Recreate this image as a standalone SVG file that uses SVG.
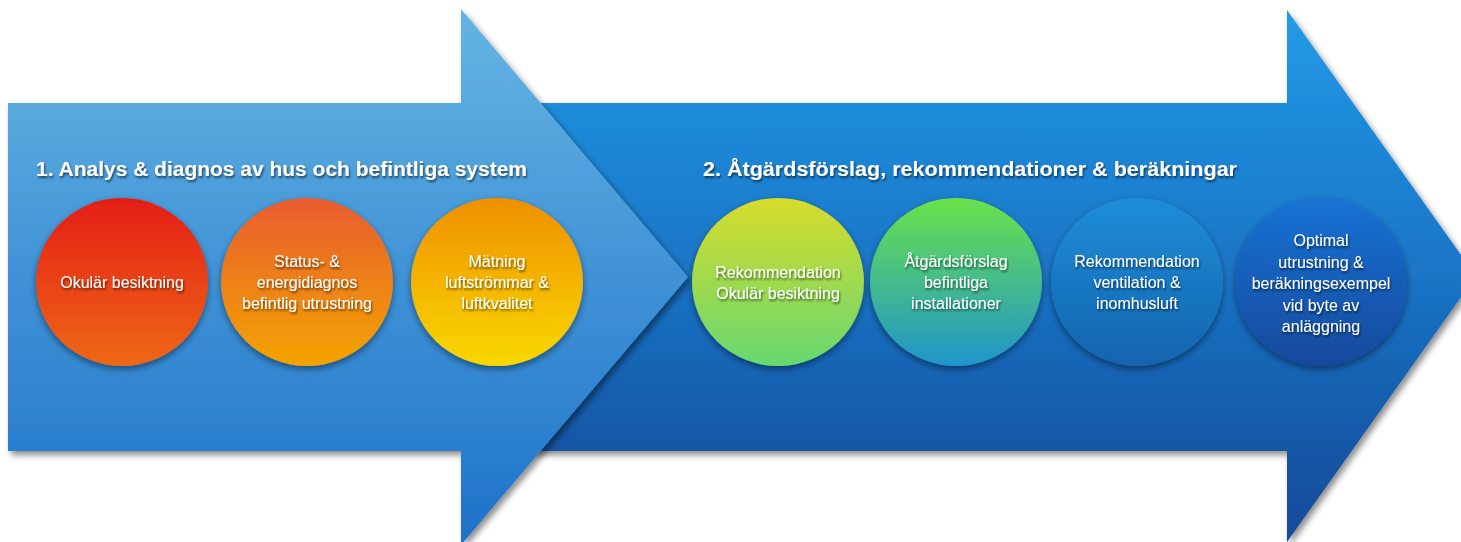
<svg xmlns="http://www.w3.org/2000/svg" width="1461" height="542" viewBox="0 0 1461 542">
<defs>
<linearGradient id="gA1" gradientUnits="userSpaceOnUse" x1="0" y1="9" x2="0" y2="545">
<stop offset="0" stop-color="#64b4e2"/>
<stop offset="0.2" stop-color="#57a8de"/>
<stop offset="0.5" stop-color="#4092d6"/>
<stop offset="0.8" stop-color="#2c80cf"/>
<stop offset="1" stop-color="#1e70c8"/>
</linearGradient>
<linearGradient id="gA2" gradientUnits="userSpaceOnUse" x1="0" y1="10" x2="0" y2="542">
<stop offset="0" stop-color="#249ce8"/>
<stop offset="0.18" stop-color="#1f8cdb"/>
<stop offset="0.5" stop-color="#1a74c5"/>
<stop offset="0.83" stop-color="#1556a6"/>
<stop offset="1" stop-color="#134a9a"/>
</linearGradient>
<linearGradient id="c1" x1="0" y1="0" x2="0" y2="1"><stop offset="0" stop-color="#e41d19"/><stop offset="1" stop-color="#ee6814"/></linearGradient>
<linearGradient id="c2" x1="0" y1="0" x2="0" y2="1"><stop offset="0" stop-color="#e85c30"/><stop offset="1" stop-color="#f3a400"/></linearGradient>
<linearGradient id="c3" x1="0" y1="0" x2="0" y2="1"><stop offset="0" stop-color="#ef9000"/><stop offset="1" stop-color="#f9d800"/></linearGradient>
<linearGradient id="c4" x1="0" y1="0" x2="0" y2="1"><stop offset="0" stop-color="#d8dc2a"/><stop offset="1" stop-color="#66d872"/></linearGradient>
<linearGradient id="c5" x1="0" y1="0" x2="0" y2="1"><stop offset="0" stop-color="#6ae24a"/><stop offset="1" stop-color="#1f94cc"/></linearGradient>
<linearGradient id="c6" x1="0" y1="0" x2="0" y2="1"><stop offset="0" stop-color="#1d8dd8"/><stop offset="1" stop-color="#1563ae"/></linearGradient>
<linearGradient id="c7" x1="0" y1="0" x2="0" y2="1"><stop offset="0" stop-color="#1a72d4"/><stop offset="1" stop-color="#13499c"/></linearGradient>
<filter id="shArrow" x="-10%" y="-10%" width="120%" height="130%">
<feGaussianBlur in="SourceAlpha" stdDeviation="3"/>
<feOffset dx="3" dy="4" result="b"/>
<feComponentTransfer><feFuncA type="linear" slope="0.45"/></feComponentTransfer>
<feMerge><feMergeNode/><feMergeNode in="SourceGraphic"/></feMerge>
</filter>
<filter id="shCircle" x="-20%" y="-20%" width="140%" height="150%">
<feGaussianBlur in="SourceAlpha" stdDeviation="3.5"/>
<feOffset dx="0" dy="3"/>
<feComponentTransfer><feFuncA type="linear" slope="0.45"/></feComponentTransfer>
<feMerge><feMergeNode/><feMergeNode in="SourceGraphic"/></feMerge>
</filter>
<filter id="shText" x="-10%" y="-30%" width="120%" height="170%">
<feGaussianBlur in="SourceAlpha" stdDeviation="1.3"/>
<feOffset dx="1" dy="2"/>
<feComponentTransfer><feFuncA type="linear" slope="0.6"/></feComponentTransfer>
<feMerge><feMergeNode/><feMergeNode in="SourceGraphic"/></feMerge>
</filter>
</defs>
<style>
.title{font-family:"Liberation Sans",Arial,sans-serif;font-weight:bold;font-size:20px;fill:#ffffff;filter:url(#shText)}
.lbl{font-family:"Liberation Sans",Arial,sans-serif;font-size:16px;fill:#ffffff;text-anchor:middle;filter:url(#shText)}
.circ{filter:url(#shCircle)}
</style>
<rect x="0" y="0" width="1461" height="542" fill="#ffffff"/>
<g id="arrow2">
<polygon points="500,103 1287,103 1287,10 1476,276 1287,542 1287,451 500,451" fill="url(#gA2)" filter="url(#shArrow)"/>
</g>
<g id="arrow1">
<polygon points="8,103 461,103 461,9 688,277 461,545 461,451 8,451" fill="url(#gA1)" filter="url(#shArrow)"/>
</g>
<g id="title1"><text class="title" x="36" y="176" textLength="491" lengthAdjust="spacingAndGlyphs">1. Analys &amp; diagnos av hus och befintliga system</text></g>
<g id="title2"><text class="title" x="703" y="176" textLength="534" lengthAdjust="spacingAndGlyphs">2. Åtgärdsförslag, rekommendationer &amp; beräkningar</text></g>
<g id="node1">
<ellipse class="circ" cx="122" cy="282" rx="86" ry="84" fill="url(#c1)"/>
<text class="lbl" x="122" y="288">Okulär besiktning</text>
</g>
<g id="node2">
<ellipse class="circ" cx="307" cy="282" rx="86" ry="84" fill="url(#c2)"/>
<text class="lbl" x="307" y="267">Status- &amp;</text>
<text class="lbl" x="307" y="288">energidiagnos</text>
<text class="lbl" x="307" y="309">befintlig utrustning</text>
</g>
<g id="node3">
<ellipse class="circ" cx="497" cy="282" rx="86" ry="84" fill="url(#c3)"/>
<text class="lbl" x="497" y="267">Mätning</text>
<text class="lbl" x="497" y="288">luftströmmar &amp;</text>
<text class="lbl" x="497" y="309">luftkvalitet</text>
</g>
<g id="node4">
<ellipse class="circ" cx="778" cy="282" rx="86" ry="84" fill="url(#c4)"/>
<text class="lbl" x="778" y="278">Rekommendation</text>
<text class="lbl" x="778" y="299">Okulär besiktning</text>
</g>
<g id="node5">
<ellipse class="circ" cx="956" cy="282" rx="86" ry="84" fill="url(#c5)"/>
<text class="lbl" x="956" y="267">Åtgärdsförslag</text>
<text class="lbl" x="956" y="288">befintliga</text>
<text class="lbl" x="956" y="309">installationer</text>
</g>
<g id="node6">
<ellipse class="circ" cx="1137" cy="282" rx="86" ry="84" fill="url(#c6)"/>
<text class="lbl" x="1137" y="267">Rekommendation</text>
<text class="lbl" x="1137" y="288">ventilation &amp;</text>
<text class="lbl" x="1137" y="309">inomhusluft</text>
</g>
<g id="node7">
<ellipse class="circ" cx="1321" cy="282" rx="86" ry="84" fill="url(#c7)"/>
<text class="lbl" x="1321" y="246">Optimal</text>
<text class="lbl" x="1321" y="267.5">utrustning &amp;</text>
<text class="lbl" x="1321" y="289">beräkningsexempel</text>
<text class="lbl" x="1321" y="310.5">vid byte av</text>
<text class="lbl" x="1321" y="332">anläggning</text>
</g>
<g id="connectors"></g>
</svg>
